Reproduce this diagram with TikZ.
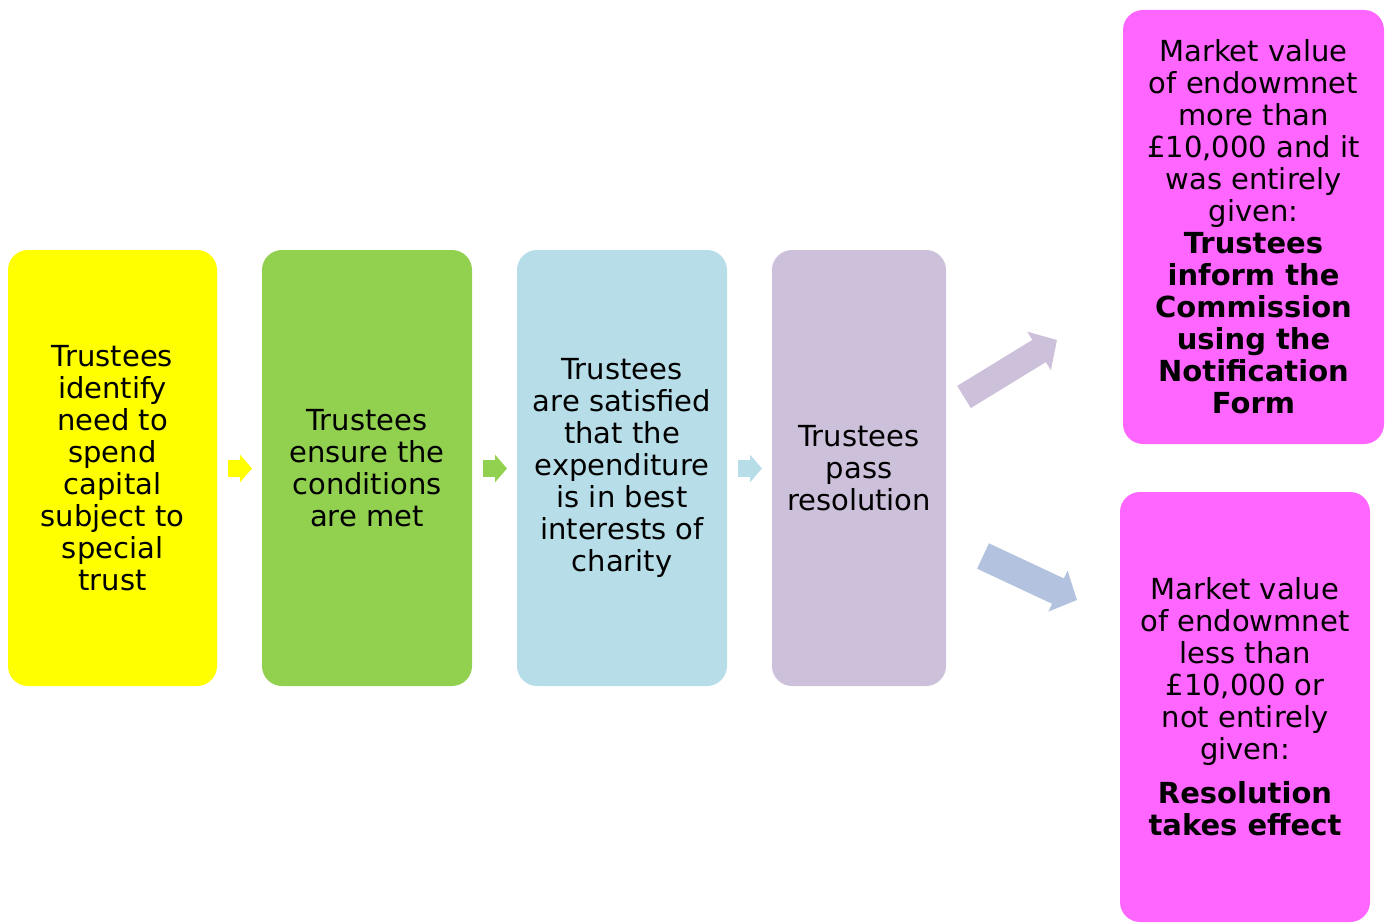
\documentclass[tikz,border=0pt]{standalone}
\usepackage{fontspec}
\setmainfont{DejaVu Sans}
\usetikzlibrary{arrows.meta}
\definecolor{stepyellow}{HTML}{FFFF00}
\definecolor{stepgreen}{HTML}{92D050}
\definecolor{stepblue}{HTML}{B7DEE8}
\definecolor{steplilac}{HTML}{CCC0DA}
\definecolor{outcomepink}{HTML}{FF66FF}
\definecolor{outcomeblue}{HTML}{B3C3DF}
\tikzset{
  stage/.style={rounded corners=20pt, inner sep=0pt, align=center,
    font=\fontsize{29}{32}\selectfont},
  flow/.style={line width=17pt, -{Triangle[length=12pt,width=27pt]}},
  bigflow/.style={-{Triangle[length=21pt,width=44pt]}}
}
\begin{document}
\begin{tikzpicture}[x=1pt,y=-1pt]
\useasboundingbox (0,0) rectangle (1389,923);
\node (identify) at (112.5,468) [stage, fill=stepyellow, minimum width=209pt, minimum height=436pt]
  {Trustees\\identify\\need to\\spend\\capital\\subject to\\special\\trust};
\node (conditions) at (367,468) [stage, fill=stepgreen, minimum width=210pt, minimum height=436pt]
  {Trustees\\ensure the\\conditions\\are met};
\node (interests) at (622,468) [stage, fill=stepblue, minimum width=210pt, minimum height=436pt]
  {Trustees\\are satisfied\\that the\\expenditure\\is in best\\interests of\\charity};
\node (resolution) at (859,468) [stage, fill=steplilac, minimum width=174pt, minimum height=436pt]
  {Trustees\\pass\\resolution};
\node (notify) at (1253.5,227) [stage, fill=outcomepink, minimum width=261pt, minimum height=434pt]
  {Market value\\of endowmnet\\more than\\£10,000 and it\\was entirely\\given:\\
   \textbf{Trustees}\\\textbf{inform the}\\\textbf{Commission}\\\textbf{using the}\\
   \textbf{Notification}\\\textbf{Form}};
\node (effect) at (1245,707) [stage, fill=outcomepink, minimum width=250pt, minimum height=430pt]
  {Market value\\of endowmnet\\less than\\£10,000 or\\not entirely\\given:\\[12pt]
   \textbf{Resolution}\\\textbf{takes effect}};
% small arrows between the steps
\coordinate (flow1a) at (228,468.5);
\coordinate (flow1b) at (252,468.5);
\coordinate (flow2a) at (483,468.5);
\coordinate (flow2b) at (507,468.5);
\coordinate (flow3a) at (738,468.5);
\coordinate (flow3b) at (762,468.5);
\draw[flow, stepyellow] (flow1a) -- (flow1b);
\draw[flow, stepgreen] (flow2a) -- (flow2b);
\draw[flow, stepblue] (flow3a) -- (flow3b);
% the two outcomes
\coordinate (upTail) at (964,397);
\coordinate (upTip) at (1057,340);
\coordinate (downTail) at (983,556);
\coordinate (downTip) at (1077,600);
\draw[bigflow, steplilac, line width=26pt] (upTail) -- (upTip);
\draw[bigflow, outcomeblue, line width=28pt] (downTail) -- (downTip);
\end{tikzpicture}
\end{document}
